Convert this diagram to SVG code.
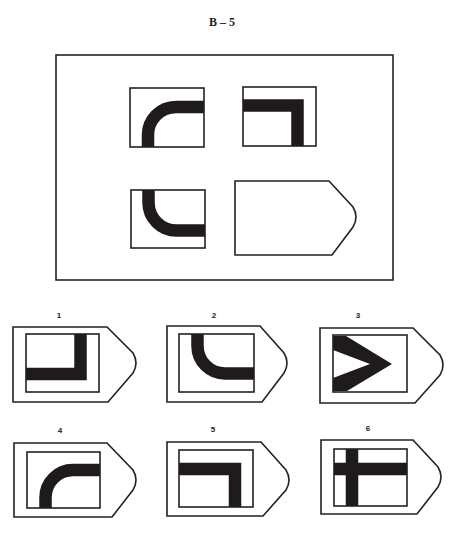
<svg xmlns="http://www.w3.org/2000/svg" width="455" height="535" viewBox="0 0 455 535">
<style>
.o{fill:none;stroke:#222;stroke-width:1.6}
.b{fill:none;stroke:#1f1b1a;stroke-width:12.5;stroke-linecap:butt;stroke-linejoin:miter}
.f{fill:#1f1b1a}
.lbl{font-family:"Liberation Sans",Arial,sans-serif;font-weight:bold;font-size:8px;fill:#222;text-anchor:middle}
.ttl{font-family:"Liberation Serif","Times New Roman",serif;font-weight:bold;font-size:12px;fill:#222;text-anchor:middle}
</style>
<rect width="455" height="535" fill="#fff"/>
<text class="ttl" x="222" y="26">B – 5</text>
<g id="matrix">
<rect class="o" x="56" y="55" width="337" height="225"/>
</g>
<g id="cell-1">
<path class="b" d="M148,147 V135 A28,28 0 0 1 176,107 H204"/>
<rect class="o" x="130" y="88" width="74" height="59"/>
</g>
<g id="cell-2">
<path class="b" d="M243,105.5 H297.5 V146"/>
<rect class="o" x="243" y="87" width="73" height="59"/>
</g>
<g id="cell-3">
<path class="b" d="M148.5,190 V202.5 A28,28 0 0 0 176.5,230.5 H205"/>
<rect class="o" x="131" y="190" width="74" height="58"/>
</g>
<g id="cell-4">
<path class="o" d="M235,181 H329 L353,207 Q359,217 353,227 L332,255 H235 Z"/>
</g>
<g id="option-1">
<text class="lbl" x="59" y="318">1</text>
<path class="o" d="M13,327 H107 L133,353 Q139,363 133,373 L108,402 H13 Z"/>
<path class="b" d="M26,374 H80.5 V334"/>
<rect class="o" x="26" y="334" width="73" height="58"/>
</g>
<g id="option-2">
<text class="lbl" x="214" y="318">2</text>
<path class="o" d="M167,326 H260 L284,353 Q290,363 284,373 L262,402 H167 Z"/>
<path class="b" d="M197.5,334 V346 A27.5,27.5 0 0 0 225,373.5 H254"/>
<rect class="o" x="179" y="334" width="75" height="58"/>
</g>
<g id="option-3">
<text class="lbl" x="358" y="318">3</text>
<path class="o" d="M320,328 H413 L440,355 Q446,365 440,375 L415,403 H320 Z"/>
<polygon class="f" points="333,336 346,336 392,364 347,391 333,391 333,378 370,364 333,350"/>
<rect class="o" x="333" y="335" width="74" height="57"/>
</g>
<g id="option-4">
<text class="lbl" x="60" y="433">4</text>
<path class="o" d="M14,443 H107 L133,470 Q139,480 133,490 L112,517 H14 Z"/>
<path class="b" d="M45.5,508 V497.5 A27.5,27.5 0 0 1 73,470 H100"/>
<rect class="o" x="27" y="452" width="73" height="56"/>
</g>
<g id="option-5">
<text class="lbl" x="213" y="432">5</text>
<path class="o" d="M167,442 H261 L286,470 Q292,480 286,490 L263,516 H167 Z"/>
<path class="b" d="M179,469 H235 V507"/>
<rect class="o" x="179" y="450" width="74" height="57"/>
</g>
<g id="option-6">
<text class="lbl" x="368" y="431">6</text>
<path class="o" d="M321,440 H413 L438,467 Q444,477 438,487 L417,514 H321 Z"/>
<path class="b" d="M352,449 V506 M334,469 H407"/>
<rect class="o" x="334" y="449" width="73" height="57"/>
</g>
</svg>
